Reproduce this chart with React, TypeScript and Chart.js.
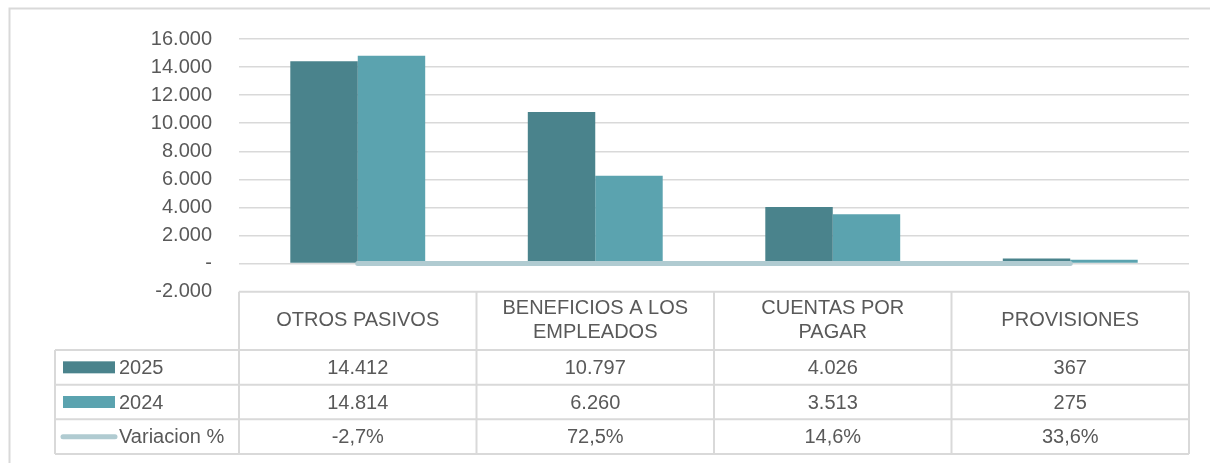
import React, { useEffect, useRef } from "react";
import { Chart, registerables } from "chart.js";

Chart.register(...registerables);

const categories: string[][] = [
  ["OTROS PASIVOS"],
  ["BENEFICIOS A LOS", "EMPLEADOS"],
  ["CUENTAS POR", "PAGAR"],
  ["PROVISIONES"],
];
const values2025 = [14412, 10797, 4026, 367];
const values2024 = [14814, 6260, 3513, 275];
const variacion = [-0.027, 0.725, 0.146, 0.336];
const seriesNames = ["2025", "2024", "Variacion %"];
const yTicks = { min: -2000, max: 16000, step: 2000 };

const COLOR_2025 = "#4A838C";
const COLOR_2024 = "#5BA3AF";
const COLOR_VAR = "#B0CBD1";
const GRID = "#D9D9D9";
const TEXT = "#595959";
const FONT = "Liberation Sans, Arial, sans-serif";

const fmtNum = (v: number) => {
  if (v === 0) return "-";
  const s = Math.abs(v).toString().replace(/\B(?=(\d{3})+(?!\d))/g, ".");
  return (v < 0 ? "-" : "") + s;
};
const fmtPct = (v: number) => (v * 100).toFixed(1).replace(".", ",") + "%";

const tablePlugin = {
  id: "dataTable",
  beforeDraw(chart: any) {
    const ctx = chart.ctx;
    ctx.save();
    ctx.strokeStyle = GRID;
    ctx.lineWidth = 2;
    ctx.beginPath();
    ctx.moveTo(9.5, 470);
    ctx.lineTo(9.5, 8.5);
    ctx.lineTo(1220, 8.5);
    ctx.stroke();
    ctx.restore();
  },
  afterDraw(chart: any) {
    const ctx = chart.ctx;
    const area = chart.chartArea;
    const xScale = chart.scales.x;
    const left = area.left;
    const right = area.right;
    const n = categories.length;
    const colW = (right - left) / n;
    const top = area.bottom;
    const headerBottom = 350;
    const rowH = (454 - headerBottom) / 3;
    const rows = [headerBottom, headerBottom + rowH, headerBottom + 2 * rowH, 454];
    const legendLeft = 55;

    ctx.save();
    ctx.strokeStyle = GRID;
    ctx.lineWidth = 2;
    ctx.beginPath();
    // top of table
    ctx.moveTo(left, top);
    ctx.lineTo(right, top);
    // row lines
    rows.forEach((y) => {
      ctx.moveTo(legendLeft, y);
      ctx.lineTo(right, y);
    });
    // verticals
    for (let i = 0; i <= n; i++) {
      const x = left + i * colW;
      ctx.moveTo(x, top);
      ctx.lineTo(x, 454);
    }
    ctx.moveTo(legendLeft, headerBottom);
    ctx.lineTo(legendLeft, 454);
    ctx.stroke();

    ctx.fillStyle = TEXT;
    ctx.font = `20px ${FONT}`;
    ctx.textAlign = "center";
    ctx.textBaseline = "middle";
    // headers
    categories.forEach((lines, i) => {
      const cx = xScale.getPixelForValue(i);
      const cy = (top + headerBottom) / 2;
      const lh = 24;
      lines.forEach((ln, j) => {
        const y = cy + (j - (lines.length - 1) / 2) * lh;
        ctx.fillText(ln, cx, y);
      });
    });
    const data = [values2025.map(fmtNum), values2024.map(fmtNum), variacion.map(fmtPct)];
    data.forEach((row, r) => {
      const cy = (rows[r] + rows[r + 1]) / 2;
      row.forEach((txt, i) => {
        ctx.fillText(txt, xScale.getPixelForValue(i), cy + 1);
      });
    });
    // legend keys
    ctx.textAlign = "left";
    [COLOR_2025, COLOR_2024].forEach((c, r) => {
      const cy = (rows[r] + rows[r + 1]) / 2;
      ctx.fillStyle = c;
      ctx.fillRect(63, cy - 6, 52, 12);
      ctx.fillStyle = TEXT;
      ctx.fillText(seriesNames[r], 119, cy + 1);
    });
    const cy3 = (rows[2] + rows[3]) / 2;
    ctx.strokeStyle = COLOR_VAR;
    ctx.lineWidth = 5;
    ctx.lineCap = "round";
    ctx.beginPath();
    ctx.moveTo(63, cy3);
    ctx.lineTo(115, cy3);
    ctx.stroke();
    ctx.fillStyle = TEXT;
    ctx.fillText(seriesNames[2], 119, cy3 + 1);
    ctx.restore();
  },
};

export default function App() {
  const ref = useRef<HTMLCanvasElement | null>(null);
  useEffect(() => {
    if (!ref.current) return;
    const chart = new Chart(ref.current, {
      type: "bar",
      data: {
        labels: categories.map((c) => c.join(" ")),
        datasets: [
          {
            type: "line",
            label: seriesNames[2],
            data: variacion,
            borderColor: COLOR_VAR,
            backgroundColor: COLOR_VAR,
            borderWidth: 5,
            borderCapStyle: "round",
            pointRadius: 0,
            order: 0,
          } as any,
          {
            label: seriesNames[0],
            data: values2025,
            backgroundColor: COLOR_2025,
            categoryPercentage: 0.568,
            barPercentage: 1,
            order: 1,
          },
          {
            label: seriesNames[1],
            data: values2024,
            backgroundColor: COLOR_2024,
            categoryPercentage: 0.568,
            barPercentage: 1,
            order: 2,
          },
        ],
      },
      options: {
        responsive: false,
        animation: false,
        layout: { padding: { left: 0, right: 21, top: 37.5, bottom: 463 - 291.7 } },
        plugins: { legend: { display: false }, tooltip: { enabled: false } },
        scales: {
          x: { display: false, offset: true },
          y: {
            min: yTicks.min,
            max: yTicks.max,
            afterFit: (s: any) => {
              s.width = 239;
            },
            border: { display: false },
            grid: {
              color: (c: any) => (c.tick && c.tick.value === yTicks.min ? "rgba(0,0,0,0)" : GRID),
              lineWidth: 1.5,
              drawTicks: false,
            },
            ticks: {
              stepSize: yTicks.step,
              padding: 27,
              color: TEXT,
              font: { family: FONT, size: 20 },
              callback: (v: any) => fmtNum(Number(v)),
            },
          },
        },
      },
      plugins: [tablePlugin],
    });
    return () => chart.destroy();
  }, []);
  return (
    <div style={{ position: "absolute", left: 0, top: 0, width: 1210, height: 463, background: "#fff" }}>
      <canvas ref={ref} width={1210} height={463} style={{ display: "block" }} />
    </div>
  );
}
